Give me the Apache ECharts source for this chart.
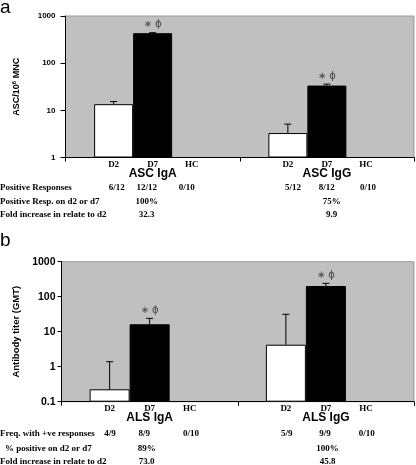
<!DOCTYPE html>
<html><head><meta charset="utf-8">
<script src="https://cdn.jsdelivr.net/npm/echarts@6/dist/echarts.min.js"></script>
<style>html,body{margin:0;padding:0;background:#fff}#c{width:416px;height:465px}</style>
</head><body><div id="c"></div>
<script>
// ---------- data ----------
const groupsA = ['ASC IgA', 'ASC IgG'];
const groupsB = ['ALS IgA', 'ALS IgG'];
const dayLabels = ['D2', 'D7', 'HC'];
const ascD2 = [13.5, 3.3];
const ascD2Err = [15.4, 5.1];
const ascD7 = [432, 33.5];
const ascD7Err = [443, 35.9];
const ascHC = ['-', '-'];
const alsD2 = [0.226, 4.25];
const alsD2Err = [1.39, 31.4];
const alsD7 = [16.3, 202];
const alsD7Err = [24.1, 241];
const alsHC = ['-', '-'];
const sigMark = '∗ ϕ';
const yTitleA = 'ASC/10{sup|6} MNC';
const yTitleB = 'Antibody titer (GMT)';
const rowLabelsA = ['Positive Responses', 'Positive Resp. on d2 or d7', 'Fold increase in relate to d2'];
const respA = [['6/12', '12/12', '0/10'], ['5/12', '8/12', '0/10']];
const posA = ['100%', '75%'];
const foldA = ['32.3', '9.9'];
const rowLabelsB = ['Freq. with +ve responses', '% positive on d2 or d7', 'Fold increase in relate to d2'];
const respB = [['4/9', '8/9', '0/10'], ['5/9', '9/9', '0/10']];
const posB = ['89%', '100%'];
const foldB = ['73.0', '45.8'];

// ---------- layout / style ----------
const SANS = 'Liberation Sans, Arial, sans-serif';
const SERIF = 'Liberation Serif, Times New Roman, serif';
const bwA = 39, bwB = 40;

function errSeries(gi, vals, errs, offIdx, bw, star) {
  return {
    type: 'custom', xAxisIndex: gi, yAxisIndex: gi, z: 5,
    data: vals.map((v, i) => [i, v, errs[i]]),
    encode: {x: 0, y: [1, 2]},
    renderItem: function (params, api) {
      const c = api.coord([api.value(0), api.value(1)]);
      const t = api.coord([api.value(0), api.value(2)]);
      const x = c[0] + offIdx * bw;
      const ch = [
        {type: 'line', shape: {x1: x, y1: c[1], x2: x, y2: t[1]}, style: {stroke: '#000', lineWidth: 1}},
        {type: 'line', shape: {x1: x - 3.5, y1: t[1], x2: x + 3.5, y2: t[1]}, style: {stroke: '#000', lineWidth: 1}}
      ];
      if (star) ch.push({type: 'text', x: x, y: t[1] - 3,
        style: {text: sigMark, align: 'center', verticalAlign: 'bottom', fill: '#444', font: '10px DejaVu Sans, sans-serif'}});
      return {type: 'group', children: ch};
    }
  };
}
function subLabelSeries(gi, bw, minV) {
  return {
    type: 'custom', xAxisIndex: gi, yAxisIndex: gi, z: 5, clip: false,
    data: [[0, minV], [1, minV]],
    encode: {x: 0, y: 1},
    renderItem: function (params, api) {
      const c = api.coord([api.value(0), api.value(1)]);
      return {type: 'group', children: dayLabels.map((d, k) => ({
        type: 'text', x: c[0] + (k - 1) * bw, y: c[1] + 2.5,
        style: {text: d, align: 'center', verticalAlign: 'top', fill: '#000', font: 'bold 9px ' + SERIF}
      }))};
    }
  };
}
function txt(s, x, y, align) {
  return {type: 'text', x: x, y: y, style: {text: s, align: align || 'center', verticalAlign: 'middle', fill: '#000', font: 'bold 9px ' + SERIF}};
}
const colA = [[116.7, 146.7, 186.7], [293, 326.7, 368]];
const colB = [[110, 144.3, 191], [286.7, 325, 366.7]];
const midA = [146.7, 331.7];
const midB = [146.7, 327.5];
const graphics = [
  {type: 'text', x: 0, y: -2, style: {text: 'a', font: '19px ' + SANS, fill: '#000'}},
  {type: 'text', x: 0, y: 231, style: {text: 'b', font: '19px ' + SANS, fill: '#000'}}
];
const rowYA = [187.3, 201.7, 215];
const rowYB = [434, 448.3, 461.7];
rowLabelsA.forEach((s, i) => graphics.push(txt(s, 0, rowYA[i], 'left')));
rowLabelsB.forEach((s, i) => graphics.push(txt(s, i === 1 ? 5 : 0, rowYB[i], 'left')));
respA.forEach((g, gi) => g.forEach((s, k) => graphics.push(txt(s, colA[gi][k], rowYA[0]))));
respB.forEach((g, gi) => g.forEach((s, k) => graphics.push(txt(s, colB[gi][k], rowYB[0]))));
posA.forEach((s, gi) => graphics.push(txt(s, midA[gi], rowYA[1])));
foldA.forEach((s, gi) => graphics.push(txt(s, midA[gi], rowYA[2])));
posB.forEach((s, gi) => graphics.push(txt(s, midB[gi], rowYB[1])));
foldB.forEach((s, gi) => graphics.push(txt(s, midB[gi], rowYB[2])));

function xAx(gi, data) {
  return {
    type: 'category', gridIndex: gi, data: data,
    axisLine: {lineStyle: {color: '#000', width: 1}},
    axisTick: {show: true, length: 4, lineStyle: {color: '#000'}},
    axisLabel: {margin: 10, fontFamily: SANS, fontWeight: 'bold', fontSize: 12, color: '#000'}
  };
}
function yAx(gi, min, name, fs, margin, gap, tickLen) {
  return {
    type: 'log', logBase: 10, gridIndex: gi, min: min, max: 1000, startValue: min,
    name: name, nameLocation: 'middle', nameGap: gap,
    nameTextStyle: {fontFamily: SANS, fontWeight: 'bold', fontSize: fs === 8 ? 9 : 9.5, color: '#000',
      rich: {sup: {fontFamily: SANS, fontWeight: 'bold', fontSize: 6, color: '#000', verticalAlign: 'top', padding: [0, 0, 5, 0]}}},
    axisLine: {show: true, lineStyle: {color: '#000', width: 1}},
    axisTick: {show: true, length: tickLen, lineStyle: {color: '#000'}},
    minorTick: {show: false},
    splitLine: {show: false},
    axisLabel: {margin: margin, fontFamily: SANS, fontWeight: 'bold', fontSize: fs, color: '#000',
      formatter: v => String(+v.toPrecision(3))}
  };
}
function bar(gi, data, color, bw) {
  return {
    type: 'bar', xAxisIndex: gi, yAxisIndex: gi, data: data, barWidth: bw, barGap: '0%',
    itemStyle: {color: color, borderColor: '#000', borderWidth: 1}
  };
}

const chart = echarts.init(document.getElementById('c'), null, {renderer: 'canvas'});
chart.setOption({
  animation: false,
  backgroundColor: '#fff',
  grid: [
    {left: 65.5, top: 16, width: 348.5, height: 141.5, show: true, backgroundColor: '#c0c0c0', borderColor: '#9c9c9c', borderWidth: 1},
    {left: 61.5, top: 261.7, width: 352.5, height: 140, show: true, backgroundColor: '#c0c0c0', borderColor: '#9c9c9c', borderWidth: 1}
  ],
  xAxis: [xAx(0, groupsA), xAx(1, groupsB)],
  yAxis: [yAx(0, 1, yTitleA, 8, 10, 43, 5), yAx(1, 0.1, yTitleB, 10.5, 6, 40, 4)],
  series: [
    bar(0, ascD2, '#fff', bwA), bar(0, ascD7, '#000', bwA), bar(0, ascHC, '#000', bwA),
    errSeries(0, ascD2, ascD2Err, -1, bwA, false), errSeries(0, ascD7, ascD7Err, 0, bwA, true),
    subLabelSeries(0, bwA, 1),
    bar(1, alsD2, '#fff', bwB), bar(1, alsD7, '#000', bwB), bar(1, alsHC, '#000', bwB),
    errSeries(1, alsD2, alsD2Err, -1, bwB, false), errSeries(1, alsD7, alsD7Err, 0, bwB, true),
    subLabelSeries(1, bwB, 0.1)
  ],
  graphic: graphics
});
</script></body></html>
